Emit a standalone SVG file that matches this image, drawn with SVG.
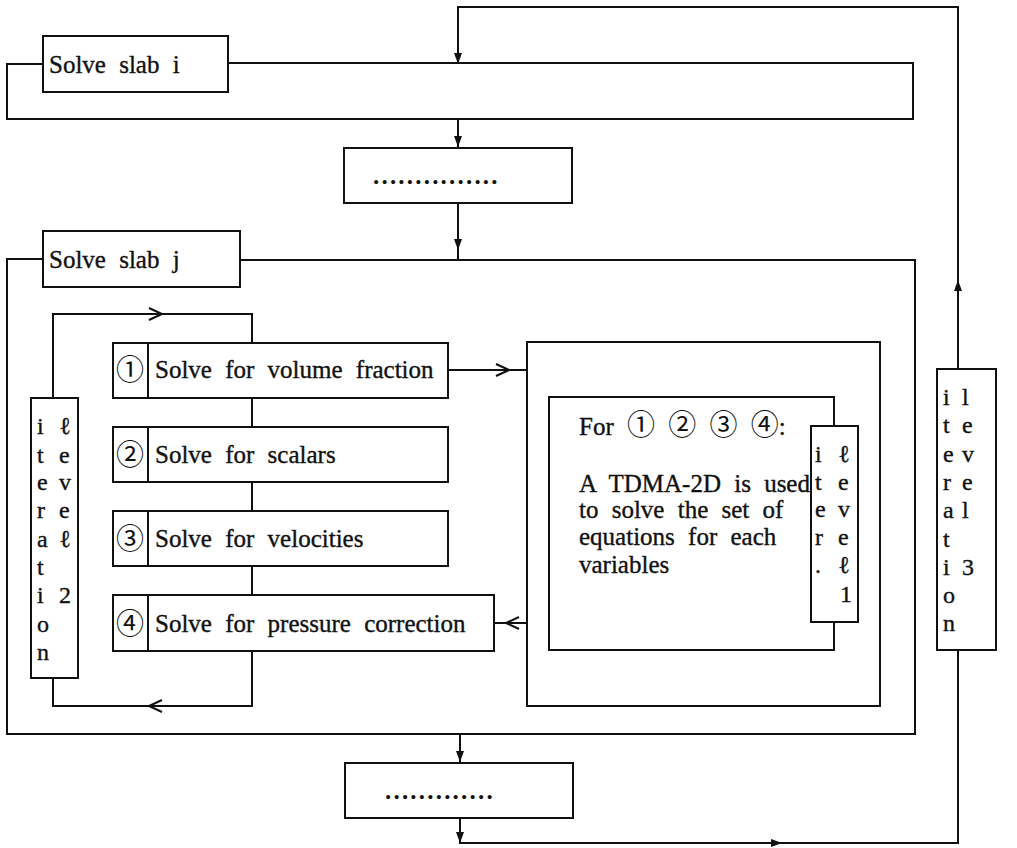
<svg xmlns="http://www.w3.org/2000/svg" width="1017" height="848" viewBox="0 0 1017 848">
<style>
.ln{fill:none;stroke:#111;stroke-width:2}
.bx{fill:#fff;stroke:#111;stroke-width:2}
.t{font-family:"Liberation Serif","Noto Sans CJK JP",serif;font-size:25px;fill:#111;stroke:#111;stroke-width:0.35;word-spacing:7px}
.c{font-family:"Liberation Serif","Noto Sans CJK JP",serif;font-size:28px;fill:#111}
.v{font-family:"Liberation Serif","Noto Sans CJK JP",serif;font-size:24px;fill:#111;stroke:#111;stroke-width:0.35}
.d{font-family:"Liberation Serif",serif;font-size:25px;font-weight:bold;fill:#111;letter-spacing:2.2px}
.ah{fill:#111}
.ch{fill:none;stroke:#111;stroke-width:2}
</style>
<defs>
<path id="tri" d="M0,0 L-4,-11 L4,-11 Z"/>
<path id="chev" d="M-7,-6 L6,0 L-7,6"/>
</defs>
<rect width="1017" height="848" fill="#fff"/>

<g id="connectors">
<path class="ln" d="M958,369 V7 H458 V64"/>
<use href="#tri" class="ah" transform="translate(458,64)"/>
<use href="#tri" class="ah" transform="translate(958,280) rotate(180)"/>
<path class="ln" d="M458,119 V148"/>
<use href="#tri" class="ah" transform="translate(458,147)"/>
<path class="ln" d="M458,203 V260"/>
<use href="#tri" class="ah" transform="translate(458,250)"/>
<path class="ln" d="M460,733 V763"/>
<use href="#tri" class="ah" transform="translate(460,762)"/>
<path class="ln" d="M460,818 V843 H958 V650"/>
<use href="#tri" class="ah" transform="translate(460,843)"/>
<use href="#tri" class="ah" transform="translate(782,843) rotate(-90)"/>
<path class="ln" d="M252,343 V314 H53 V398"/>
<use href="#chev" class="ch" transform="translate(156,314)"/>
<path class="ln" d="M252,651 V706 H53 V678"/>
<use href="#chev" class="ch" transform="translate(155,706) rotate(180)"/>
<path class="ln" d="M252,398 V427 M252,482 V511 M252,566 V595"/>
<path class="ln" d="M448,370 H527"/>
<use href="#chev" class="ch" transform="translate(503,370)"/>
<path class="ln" d="M494,623 H527"/>
<use href="#chev" class="ch" transform="translate(512,623) rotate(180)"/>
<path class="ln" d="M639,397 V371 H743 V397"/>
<use href="#chev" class="ch" transform="translate(697,371)"/>
<path class="ln" d="M639,650 V677 H755 V650"/>
<use href="#chev" class="ch" transform="translate(703,677)"/>
</g>

<g id="slab-i">
<path class="ln" d="M43,64 H7 V119 H913 V63 H228"/>
<rect class="bx" x="43" y="36" width="185" height="56"/>
<text class="t" x="49" y="73">Solve slab i</text>
</g>

<g id="dots-top">
<rect class="bx" x="344" y="148" width="228" height="55"/>
<text class="d" x="373" y="184">...............</text>
</g>

<g id="slab-j">
<path class="ln" d="M43,259 H7 V734 H915 V260 H240"/>
<rect class="bx" x="43" y="231" width="197" height="56"/>
<text class="t" x="49" y="268">Solve slab j</text>
</g>

<g id="iter-level2">
<rect class="bx" x="31" y="398" width="47" height="280"/>
<text class="v"><tspan x="37" y="434">i</tspan><tspan x="37" y="463">t</tspan><tspan x="37" y="490">e</tspan><tspan x="37" y="518">r</tspan><tspan x="37" y="547">a</tspan><tspan x="37" y="575">t</tspan><tspan x="37" y="603">i</tspan><tspan x="37" y="632">o</tspan><tspan x="37" y="660">n</tspan></text>
<text class="v"><tspan x="59" y="434">ℓ</tspan><tspan x="59" y="463">e</tspan><tspan x="59" y="490">v</tspan><tspan x="59" y="518">e</tspan><tspan x="59" y="547">ℓ</tspan><tspan x="59" y="603">2</tspan></text>
</g>

<g id="step1">
<rect class="bx" x="113" y="343" width="335" height="55"/>
<path class="ln" d="M148,343 V398"/>
<text class="c" x="130" y="380" text-anchor="middle">①</text>
<text class="t" x="155" y="378">Solve for volume fraction</text>
</g>

<g id="step2">
<rect class="bx" x="113" y="427" width="335" height="55"/>
<path class="ln" d="M148,427 V482"/>
<text class="c" x="130" y="465" text-anchor="middle">②</text>
<text class="t" x="155" y="463">Solve for scalars</text>
</g>

<g id="step3">
<rect class="bx" x="113" y="511" width="335" height="55"/>
<path class="ln" d="M148,511 V566"/>
<text class="c" x="130" y="549" text-anchor="middle">③</text>
<text class="t" x="155" y="547">Solve for velocities</text>
</g>

<g id="step4">
<rect class="bx" x="113" y="595" width="381" height="56"/>
<path class="ln" d="M148,595 V651"/>
<text class="c" x="130" y="634" text-anchor="middle">④</text>
<text class="t" x="155" y="632">Solve for pressure correction</text>
</g>

<g id="tdma">
<rect class="bx" x="527" y="342" width="353" height="364"/>
<path class="ln" d="M834,426 V397 H549 V650 H834 V622"/>
<text class="t" x="579" y="435">For <tspan class="c" stroke-width="0">①</tspan> <tspan class="c" stroke-width="0">②</tspan> <tspan class="c" stroke-width="0">③</tspan> <tspan class="c" stroke-width="0">④</tspan>:</text>
<text class="t"><tspan x="579" y="492">A TDMA-2D is used</tspan><tspan x="579" y="518">to solve the set of</tspan><tspan x="579" y="545">equations for each</tspan><tspan x="579" y="573">variables</tspan></text>
</g>

<g id="iter-level1">
<rect class="bx" x="811" y="426" width="47" height="196"/>
<text class="v"><tspan x="815" y="462">i</tspan><tspan x="815" y="490">t</tspan><tspan x="815" y="517">e</tspan><tspan x="815" y="545">r</tspan><tspan x="815" y="573">.</tspan></text>
<text class="v"><tspan x="838" y="462">ℓ</tspan><tspan x="838" y="490">e</tspan><tspan x="838" y="517">v</tspan><tspan x="838" y="545">e</tspan><tspan x="838" y="573">ℓ</tspan><tspan x="840" y="602">1</tspan></text>
</g>

<g id="iter-level3">
<rect class="bx" x="937" y="369" width="59" height="281"/>
<text class="v"><tspan x="943" y="405">i</tspan><tspan x="943" y="433">t</tspan><tspan x="943" y="462">e</tspan><tspan x="943" y="490">r</tspan><tspan x="943" y="518">a</tspan><tspan x="943" y="547">t</tspan><tspan x="943" y="575">i</tspan><tspan x="943" y="603">o</tspan><tspan x="943" y="631">n</tspan></text>
<text class="v"><tspan x="962" y="405">l</tspan><tspan x="962" y="433">e</tspan><tspan x="962" y="462">v</tspan><tspan x="962" y="490">e</tspan><tspan x="962" y="518">l</tspan><tspan x="962" y="575">3</tspan></text>
</g>

<g id="dots-bottom">
<rect class="bx" x="345" y="763" width="228" height="55"/>
<text class="d" x="385" y="799">.............</text>
</g>
</svg>
